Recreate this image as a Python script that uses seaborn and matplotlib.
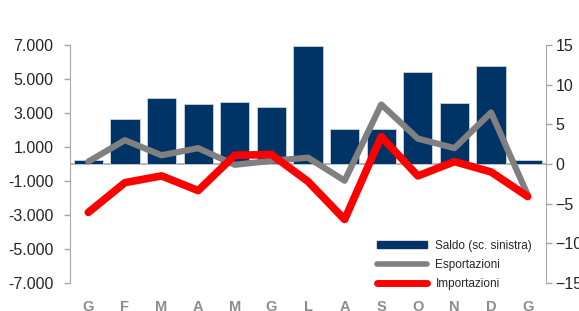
import matplotlib
matplotlib.use("Agg")
import matplotlib.pyplot as plt
import matplotlib.lines as mlines
import matplotlib.patches as mpatches
from matplotlib.ticker import FuncFormatter
import numpy as np
import seaborn as sns

# month initials (Italian), Jan of year 1 to Jan of year 2
months = ["G", "F", "M", "A", "M", "G", "L", "A", "S", "O", "N", "D", "G"]
# trade balance, left scale
saldo = [250, 2660, 3860, 3520, 3650, 3350, 6950, 2080, 2060, 5390, 3570, 5760, 230]
# y/y changes, right scale
esportazioni = [0.3, 3.0, 1.1, 2.0, -0.1, 0.4, 0.8, -2.1, 7.5, 3.2, 2.0, 6.5, -3.9]
importazioni = [-6.1, -2.35, -1.5, -3.35, 1.1, 1.2, -2.2, -7.0, 3.45, -1.5, 0.3, -1.0, -4.1]

navy = "#003366"
grey = "#808080"
red = "#FF0000"
spine_col = "#A6A6A6"

sns.set_style("white")
plt.rcParams['font.family'] = ['Liberation Sans', 'DejaVu Sans']

fig = plt.figure(figsize=(5.79, 3.11), dpi=100)
ax = fig.add_axes([70/579, 1-283/311, (546-70)/579, (283-45)/311])
ax2 = ax.twinx()

idx = np.arange(len(months))
sns.barplot(x=idx, y=saldo, color=navy, saturation=1, width=0.8,
            edgecolor="#c9d3df", linewidth=0.6, ax=ax, zorder=2)
ax.axhline(0, color=spine_col, lw=1.2, zorder=1)

sns.lineplot(x=idx, y=esportazioni, color=grey, linewidth=4.5, ax=ax2)
sns.lineplot(x=idx, y=importazioni, color=red, linewidth=5.5, ax=ax2)

ax.set_xlim(-0.5, len(months) - 0.5)
ax.set_ylim(-7000, 7000)
ax.set_yticks(np.arange(-7000, 7001, 2000))
ax.yaxis.set_major_formatter(FuncFormatter(lambda v, p: f"{int(v):,}".replace(",", ".")))
ax2.set_ylim(-15, 15)
ax2.set_yticks(np.arange(-15, 16, 5))

ax.set_xticks(idx)
ax.set_xticklabels(months, color="#8C8C8C", fontweight="bold", fontsize=10.5)
ax.tick_params(axis="x", length=0, pad=12)
ax.tick_params(axis="y", labelsize=11.5, length=4, width=1, color=spine_col, pad=8)
ax2.tick_params(axis="y", labelsize=11.5, length=4, width=1, color=spine_col, pad=3)
ax.set_xlabel("")
ax.set_ylabel("")
ax2.set_ylabel("")

for a in (ax, ax2):
    for s in ("top", "bottom"):
        a.spines[s].set_visible(False)
    a.spines["left"].set_color(spine_col)
    a.spines["right"].set_color(spine_col)
    a.grid(False)
ax.spines["right"].set_visible(False)
ax2.spines["left"].set_visible(False)

handles = [
    mpatches.Patch(color=navy, label="Saldo (sc. sinistra)"),
    mlines.Line2D([], [], color=grey, lw=4, label="Esportazioni"),
    mlines.Line2D([], [], color=red, lw=5, label="Importazioni"),
]
ax2.legend(handles=handles, loc="lower left", bbox_to_anchor=(377/579, 1-290/311),
           bbox_transform=fig.transFigure, frameon=False, fontsize=8.5,
           handlelength=4.2, handleheight=0.6, handletextpad=0.75,
           labelspacing=0.6, borderpad=0, borderaxespad=0)

fig.savefig("out.png", dpi=100)
